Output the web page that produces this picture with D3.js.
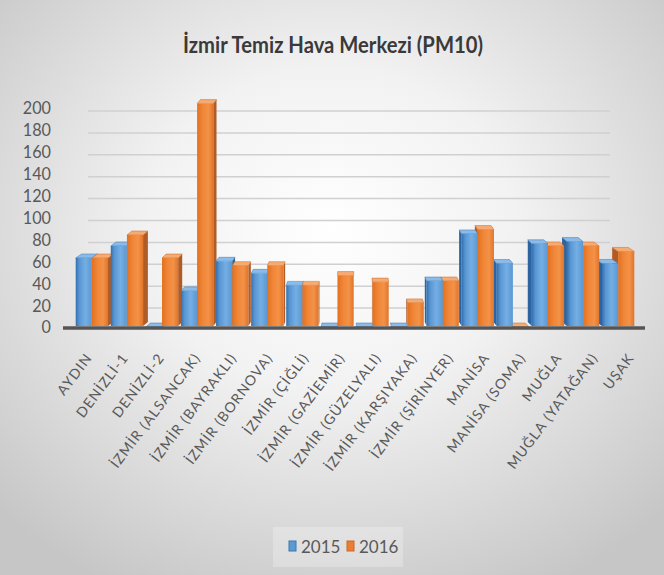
<!DOCTYPE html>
<html>
<head>
<meta charset="utf-8">
<script src="https://cdn.jsdelivr.net/npm/d3@7"></script>
<style>
  body { margin: 0; background: #fff; }
  text { font-family: Lato, "Open Sans", sans-serif; }
</style>
</head>
<body>
<div id="chart"></div>
<script>
var categories = ["AYDIN", "DENİZLİ-1", "DENİZLİ-2", "İZMİR (ALSANCAK)", "İZMİR (BAYRAKLI)",
  "İZMİR (BORNOVA)", "İZMİR (ÇİĞLİ)", "İZMİR (GAZİEMİR)", "İZMİR (GÜZELYALI)", "İZMİR (KARŞIYAKA)",
  "İZMİR (ŞİRİNYER)", "MANİSA", "MANİSA (SOMA)", "MUĞLA", "MUĞLA (YATAĞAN)", "UŞAK"];
var series = ["2015", "2016"];
var values2015 = [63, 74, 0, 33, 60, 49, 38, 0, 0, 0, 42, 85, 58, 76, 78, 58];
var values2016 = [63, 84, 63, 204, 56, 56, 38, 47, 41, 22, 42, 89, 0, 74, 74, 69];
var yTicks = [0, 20, 40, 60, 80, 100, 120, 140, 160, 180, 200];
var title = "İzmir Temiz Hava Merkezi (PM10)";

var W = 664, H = 575;
var floorY = 327;

var svg = d3.select('#chart').append('svg')
  .attr('width', W)
  .attr('height', H);

var defs = svg.append('defs');

var bg = defs.append('radialGradient').attr('id', 'bg')
  .attr('cx', '50%').attr('cy', '40%').attr('r', '70%');
bg.append('stop').attr('offset', '0%').attr('stop-color', '#ffffff');
bg.append('stop').attr('offset', '40%').attr('stop-color', '#f2f2f2');
bg.append('stop').attr('offset', '100%').attr('stop-color', '#c6c6c6');

// front face shading of the 3d columns
function faceGradient(id, stops) {
  var g = defs.append('linearGradient').attr('id', id)
    .attr('x1', '0%').attr('x2', '100%').attr('y1', '0%').attr('y2', '0%');
  stops.forEach(function(s) {
    g.append('stop').attr('offset', s[0]).attr('stop-color', s[1]);
  });
}
faceGradient('front2015', [['0%', '#336fae'], ['22%', '#5896d3'], ['60%', '#74aee4'], ['100%', '#5b98d2']]);
faceGradient('front2016', [['0%', '#e3711f'], ['35%', '#f08638'], ['70%', '#f39247'], ['100%', '#e0742a']]);

var colors = {
  '2015': { front: 'url(#front2015)', side: '#2c63a0', top: '#8bbbe8', stroke: '#3f76ad' },
  '2016': { front: 'url(#front2016)', side: '#b05c27', top: '#f6ab72', stroke: '#c86a2a' }
};

svg.append('rect')
  .attr('width', W).attr('height', H)
  .attr('fill', 'url(#bg)');

svg.append('text')
  .attr('x', 333).attr('y', 53)
  .attr('text-anchor', 'middle')
  .attr('font-size', 22)
  .attr('font-weight', 'bold')
  .attr('fill', '#3a3a3a')
  .attr('textLength', 300)
  .attr('lengthAdjust', 'spacingAndGlyphs')
  .text(title);

var y = d3.scaleLinear().domain([0, 200]).range([floorY, 108]);

var x = d3.scaleBand().domain(categories).range([75, 635]).paddingInner(0.08).paddingOuter(0.02);
var xSub = d3.scaleBand().domain(series).range([0, x.bandwidth()]);
var xLabel = d3.scalePoint().domain(categories).range([85, 627]);

// back wall gridlines
svg.append('g').selectAll('line')
  .data(yTicks.slice(1))
  .enter().append('line')
  .attr('x1', 88).attr('x2', 610)
  .attr('y1', function(d) { return y(d) + 3; })
  .attr('y2', function(d) { return y(d) + 3; })
  .attr('stroke', '#d0d0d0')
  .attr('stroke-width', 1.5);

svg.append('g').selectAll('text')
  .data(yTicks)
  .enter().append('text')
  .attr('x', 51)
  .attr('y', function(d) { return y(d); })
  .attr('dy', '0.36em')
  .attr('text-anchor', 'end')
  .attr('font-size', 18)
  .attr('fill', '#595959')
  .attr('textLength', function(d) { return String(d).length * 9.4; })
  .attr('lengthAdjust', 'spacingAndGlyphs')
  .text(function(d) { return d; });

// bars
var vanishX = 354, depthK = 0.022, topDepth = 4;
var bars = [];
categories.forEach(function(c, i) {
  series.forEach(function(s) {
    var v = s === '2015' ? values2015[i] : values2016[i];
    var x0 = x(c) + xSub(s);
    var w = xSub.bandwidth();
    var cx = x0 + w / 2;
    bars.push({ cat: c, series: s, value: v, x0: x0, w: w, dx: (vanishX - cx) * depthK });
  });
});
// draw the ones farther from the centre first
bars.sort(function(a, b) { return Math.abs(b.dx) - Math.abs(a.dx); });

var barG = svg.append('g');
bars.forEach(function(b) {
  var g = barG.append('g');
  var col = colors[b.series];
  var yt = y(b.value), yb = floorY - 1;
  var xl = b.x0, xr = b.x0 + b.w, dx = b.dx, dy = topDepth;
  var sideX = dx > 0 ? xr : xl;
  g.append('path')
    .attr('d', 'M' + sideX + ',' + yb + 'L' + sideX + ',' + yt + 'L' + (sideX + dx) + ',' + (yt - dy) +
      'L' + (sideX + dx) + ',' + (yb - dy) + 'Z')
    .attr('fill', col.side);
  g.append('path')
    .attr('d', 'M' + xl + ',' + yt + 'L' + xr + ',' + yt + 'L' + (xr + dx) + ',' + (yt - dy) +
      'L' + (xl + dx) + ',' + (yt - dy) + 'Z')
    .attr('fill', col.top)
    .attr('stroke', col.stroke)
    .attr('stroke-width', 0.5);
  g.append('rect')
    .attr('x', xl).attr('y', yt)
    .attr('width', b.w).attr('height', Math.max(0, yb - yt))
    .attr('fill', col.front);
});

// floor edge
svg.append('line')
  .attr('x1', 63).attr('x2', 645)
  .attr('y1', floorY + 1).attr('y2', floorY + 1)
  .attr('stroke', '#555555')
  .attr('stroke-width', 3.5);

svg.append('g').selectAll('text')
  .data(categories)
  .enter().append('text')
  .attr('transform', function(d) { return 'translate(' + xLabel(d) + ',352) rotate(-53)'; })
  .attr('text-anchor', 'end')
  .attr('dy', '0.7em')
  .attr('font-family', '"Open Sans", sans-serif')
  .attr('font-size', 14)
  .attr('letter-spacing', 1.1)
  .attr('fill', '#595959')
  .text(function(d) { return d; });

// legend
var legend = svg.append('g');
legend.append('rect')
  .attr('x', 273).attr('y', 527).attr('width', 130).attr('height', 40)
  .attr('fill', '#ffffff').attr('fill-opacity', 0.25);
[{ s: '2015', x: 289 }, { s: '2016', x: 347 }].forEach(function(l) {
  legend.append('rect')
    .attr('x', l.x).attr('y', 541).attr('width', 7).attr('height', 10)
    .attr('fill', l.s === '2015' ? '#5b9bd5' : '#ed7d31')
    .attr('stroke', colors[l.s].stroke)
    .attr('stroke-width', 1);
  legend.append('text')
    .attr('x', l.x + 12).attr('y', 553)
    .attr('font-size', 17)
    .attr('fill', '#595959')
    .text(l.s);
});
</script>
</body>
</html>
